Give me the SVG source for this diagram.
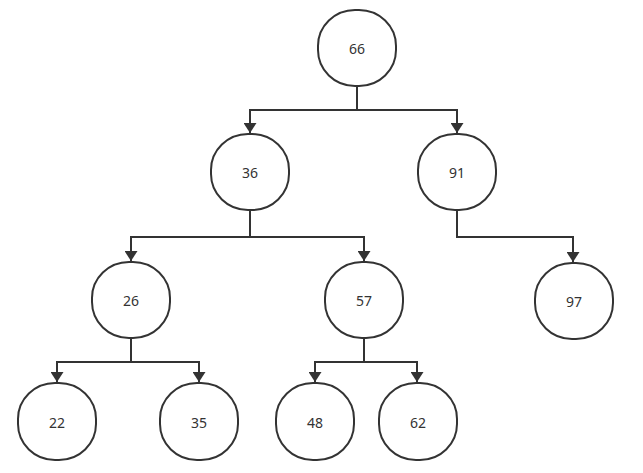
<svg xmlns="http://www.w3.org/2000/svg" width="643" height="473" viewBox="0 0 643 473">
<style>
.n rect{fill:#fff;stroke:#333;stroke-width:2}
.n text{font-family:"Noto Sans","Open Sans",sans-serif;font-size:14px;fill:#333;text-anchor:middle;dominant-baseline:central}
.e path{fill:none;stroke:#333;stroke-width:2}
</style>
<defs>
<marker id="a" viewBox="0 0 10 13" refX="10" refY="6.5" markerWidth="10" markerHeight="13" markerUnits="userSpaceOnUse" orient="auto">
<path d="M0,0 L10,6.5 L0,13 Z" fill="#333"/>
</marker>
</defs>
<rect width="643" height="473" fill="#fff"/>
<g class="e">
<path d="M357,86 V110 H250 V133" marker-end="url(#a)"/>
<path d="M357,110 H457 V133" marker-end="url(#a)"/>
<path d="M250,210 V237 H131 V261" marker-end="url(#a)"/>
<path d="M250,237 H364 V261" marker-end="url(#a)"/>
<path d="M457,210 V237 H573 V262" marker-end="url(#a)"/>
<path d="M131,338 V362 H57 V382" marker-end="url(#a)"/>
<path d="M131,362 H199 V382" marker-end="url(#a)"/>
<path d="M364,338 V362 H315 V382" marker-end="url(#a)"/>
<path d="M364,362 H417 V382" marker-end="url(#a)"/>
</g>
<g id="n66" class="n"><rect x="318" y="10" width="78" height="76" rx="37" ry="36"/><text x="357" y="48">66</text></g>
<g id="n36" class="n"><rect x="211" y="134" width="78" height="76" rx="37" ry="36"/><text x="250" y="172">36</text></g>
<g id="n91" class="n"><rect x="418" y="134" width="78" height="76" rx="37" ry="36"/><text x="457" y="172">91</text></g>
<g id="n26" class="n"><rect x="92" y="262" width="78" height="76" rx="37" ry="36"/><text x="131" y="300">26</text></g>
<g id="n57" class="n"><rect x="325" y="262" width="78" height="76" rx="37" ry="36"/><text x="364" y="300">57</text></g>
<g id="n97" class="n"><rect x="535" y="263" width="78" height="76" rx="37" ry="36"/><text x="574" y="301">97</text></g>
<g id="n22" class="n"><rect x="18" y="383" width="78" height="77" rx="37" ry="36"/><text x="57" y="422">22</text></g>
<g id="n35" class="n"><rect x="160" y="383" width="78" height="77" rx="37" ry="36"/><text x="199" y="422">35</text></g>
<g id="n48" class="n"><rect x="276" y="383" width="78" height="77" rx="37" ry="36"/><text x="315" y="422">48</text></g>
<g id="n62" class="n"><rect x="379" y="383" width="78" height="77" rx="37" ry="36"/><text x="418" y="422">62</text></g>
</svg>
